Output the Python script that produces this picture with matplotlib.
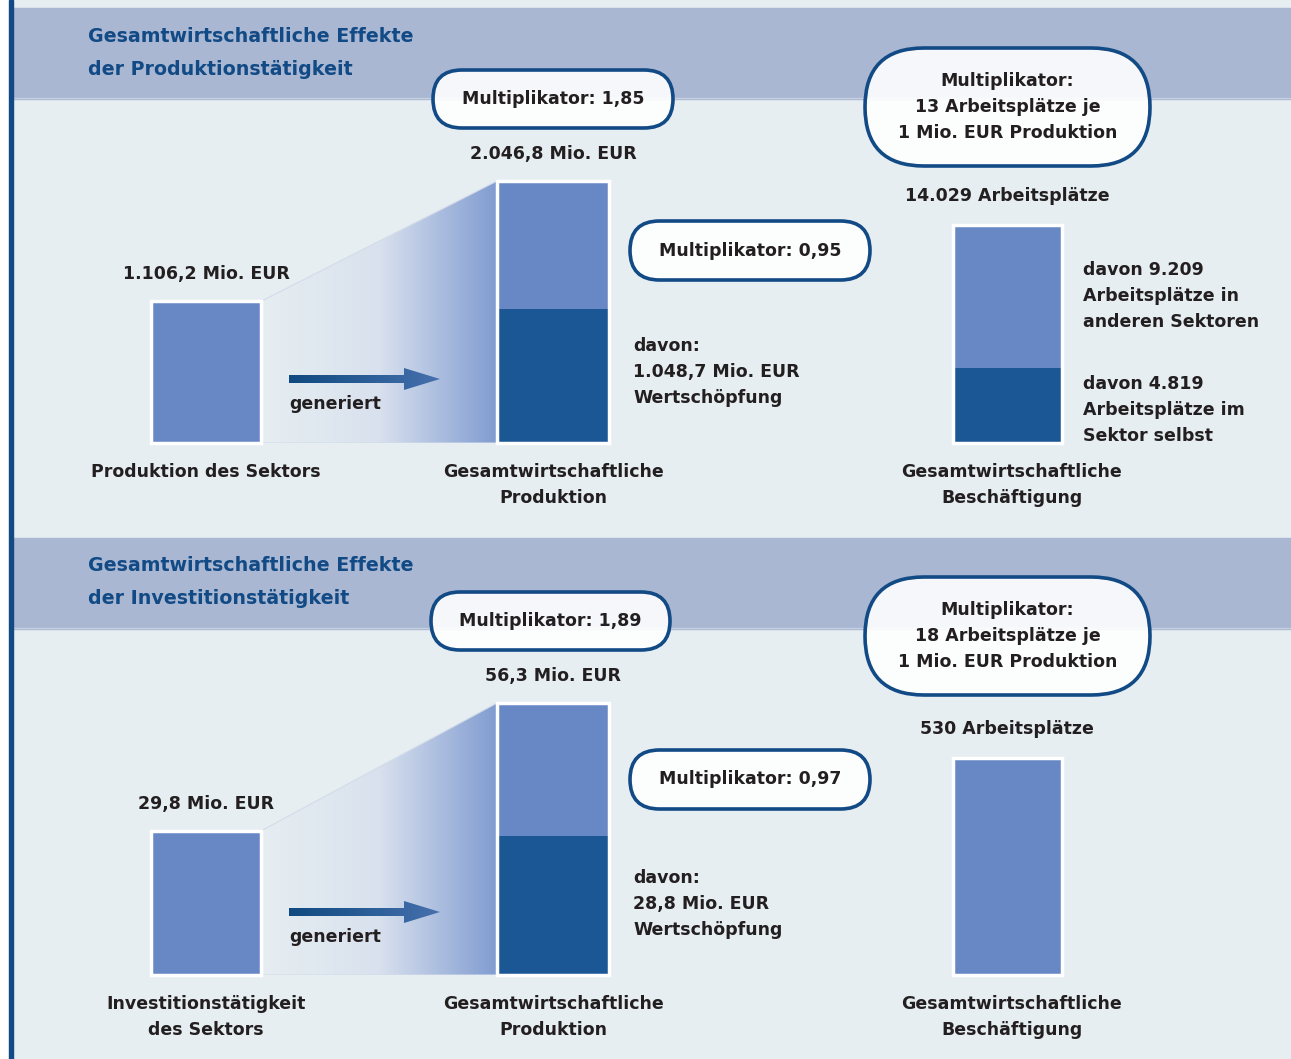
import numpy as np
import matplotlib.pyplot as plt
from matplotlib.patches import Polygon, FancyBboxPatch, Rectangle, FancyArrow
from matplotlib.colors import LinearSegmentedColormap

# Werte (Mio. EUR bzw. Arbeitsplätze)
titel = ["Gesamtwirtschaftliche Effekte\nder Produktionstätigkeit",
         "Gesamtwirtschaftliche Effekte\nder Investitionstätigkeit"]
direkt = [1106.2, 29.8]
gesamt = [2046.8, 56.3]
wertschoepfung = [1048.7, 28.8]
mult_prod = ["1,85", "1,89"]
mult_wert = ["0,95", "0,97"]
mult_jobs = [13, 18]
jobs_gesamt = [14029, 530]
jobs_selbst = [4819, None]
jobs_andere = [9209, None]
direkt_namen = ["Produktion des Sektors", "Investitionstätigkeit\ndes Sektors"]

W, H = 1291, 1059
hell = "#6788c5"
dunkel = "#1a5794"
band = "#a9b7d2"
hg = "#e6eef2"
navy = "#124a85"
txt = "#231f20"
FONT = "DejaVu Sans"
FS = 12.5


def de(v, nk=1):
    s = f"{v:,.{nk}f}"
    return s.replace(",", "X").replace(".", ",").replace("X", ".")


fig = plt.figure(figsize=(W / 100, H / 100), dpi=100)
fig.patch.set_facecolor(hg)
bg = fig.add_axes([0, 0, 1, 1])
bg.set_xlim(0, W)
bg.set_ylim(H, 0)
bg.axis("off")
bg.set_zorder(5)


def px_axes(x0, x1, ytop, ybot):
    a = fig.add_axes([x0 / W, 1 - ybot / H, (x1 - x0) / W, (ybot - ytop) / H])
    a.axis("off")
    a.set_zorder(1)
    return a


def t(x, y, s, ha="center", va="center", **kw):
    kw.setdefault("color", txt)
    kw.setdefault("fontsize", FS)
    bg.text(x, y, s, ha=ha, va=va, fontweight="bold", family=FONT,
            linespacing=1.55, **kw)


def pille(x0, y0, w, h, s):
    p = FancyBboxPatch((x0, y0), w, h, boxstyle=f"round,pad=0,rounding_size={h / 2}",
                       facecolor=(1, 1, 1, 0.9), edgecolor=navy, lw=2.6, zorder=5)
    bg.add_patch(p)
    t(x0 + w / 2, y0 + h / 2, s, zorder=6)


# Rahmen links
bg.add_patch(Rectangle((0, 0), 9, H, color="white", zorder=8))
bg.add_patch(Rectangle((9, 0), 3.5, H, color=navy, zorder=8))

# Layout je Abschnitt
band_y = [8, 538]
titel_y = [53, 582]
base = [443, 975]
top_prod = [181, 703]
top_jobs = [225, 758]
box_prod = [(433, 70, 240, 58), (431, 592, 239, 58)]
box_wert = [(630, 221, 240, 59), (630, 750, 240, 59)]
box_jobs = [(865, 48, 285, 118), (865, 577, 285, 118)]
pfeil_y = [379, 912]

arrow_cmap = LinearSegmentedColormap.from_list("a", ["#0f4a80", "#4670ad"])
grad_cmap = LinearSegmentedColormap.from_list("g", [hg, "#d9e1ee", "#819cd1"])

for i in range(2):
    bg.add_patch(Rectangle((12, band_y[i]), W, 91, color=band, zorder=0))
    bg.plot([12, W], [band_y[i] + 90, band_y[i] + 90], color="#c6d0e0", lw=1, zorder=0)
    bg.text(88, titel_y[i], titel[i], ha="left", va="center", color=navy,
            fontsize=13.7, fontweight="bold", family=FONT, linespacing=1.9)

    # Produktion
    ax = px_axes(100, 700, top_prod[i], base[i])
    ax.set_xlim(100, 700)
    ax.set_ylim(0, gesamt[i])
    xl, wl = 206, 110
    xr, wr = 553, 112
    ax.bar(xl, direkt[i], width=wl, color=hell, edgecolor="white", lw=2.5,
           zorder=3, clip_on=False)
    ax.bar(xr, wertschoepfung[i], width=wr, color=dunkel, zorder=3, clip_on=False)
    ax.bar(xr, gesamt[i] - wertschoepfung[i], bottom=wertschoepfung[i], width=wr,
           color=hell, zorder=3, clip_on=False)
    ax.bar(xr, gesamt[i], width=wr, fill=False, edgecolor="white", lw=2.5,
           zorder=4, clip_on=False)

    x0, x1 = xl + wl / 2, xr - wr / 2
    poly = Polygon([(x0, direkt[i]), (x1, gesamt[i]), (x1, 0), (x0, 0)],
                   closed=True, facecolor="none", edgecolor="#d3dce8", lw=0.8, zorder=2)
    ax.add_patch(poly)
    im = ax.imshow(np.linspace(0, 1, 256).reshape(1, -1), extent=(x0, x1, 0, gesamt[i]),
                   aspect="auto", cmap=grad_cmap, zorder=1)
    im.set_clip_path(poly)
    ax.set_xlim(100, 700)
    ax.set_ylim(0, gesamt[i])

    ax.annotate(f"{de(direkt[i])} Mio. EUR", (xl, direkt[i]), xytext=(0, 27),
                textcoords="offset pixels", ha="center", va="center", color=txt,
                fontsize=FS, fontweight="bold", family=FONT, annotation_clip=False)
    ax.annotate(f"{de(gesamt[i])} Mio. EUR", (xr, gesamt[i]), xytext=(0, 27),
                textcoords="offset pixels", ha="center", va="center", color=txt,
                fontsize=FS, fontweight="bold", family=FONT, annotation_clip=False)

    # Pfeil mit Verlauf
    ar = FancyArrow(289, pfeil_y[i], 151, 0, width=8, head_width=22, head_length=36,
                    length_includes_head=True, facecolor="none", edgecolor="none", zorder=3)
    bg.add_patch(ar)
    aim = bg.imshow(np.linspace(0, 1, 256).reshape(1, -1),
                    extent=(289, 440, pfeil_y[i] + 12, pfeil_y[i] - 12),
                    aspect="auto", cmap=arrow_cmap, zorder=3)
    aim.set_clip_path(ar)
    t(289, pfeil_y[i] + 25, "generiert", ha="left")

    pille(*box_prod[i], f"Multiplikator: {mult_prod[i]}")
    pille(*box_wert[i], f"Multiplikator: {mult_wert[i]}")
    t(633, base[i] - 71, f"davon:\n{de(wertschoepfung[i])} Mio. EUR\nWertschöpfung", ha="left")

    t(206, base[i] + 20, direkt_namen[i], va="top")
    t(553, base[i] + 20, "Gesamtwirtschaftliche\nProduktion", va="top")

    # Beschäftigung
    aj = px_axes(900, 1120, top_jobs[i], base[i])
    aj.set_xlim(900, 1120)
    aj.set_ylim(0, jobs_gesamt[i])
    xj, wj = 1007, 109
    if jobs_selbst[i] is not None:
        aj.bar(xj, jobs_selbst[i], width=wj, color=dunkel, zorder=3, clip_on=False)
        aj.bar(xj, jobs_andere[i], bottom=jobs_selbst[i], width=wj, color=hell,
               zorder=3, clip_on=False)
        aj.bar(xj, jobs_gesamt[i], width=wj, fill=False, edgecolor="white", lw=2.5,
               zorder=4, clip_on=False)
        t(1083, 296, f"davon {de(jobs_andere[i], 0)}\nArbeitsplätze in\nanderen Sektoren", ha="left")
        t(1083, 410, f"davon {de(jobs_selbst[i], 0)}\nArbeitsplätze im\nSektor selbst", ha="left")
    else:
        aj.bar(xj, jobs_gesamt[i], width=wj, color=hell, edgecolor="white", lw=2.5,
               zorder=3, clip_on=False)
    aj.annotate(f"{de(jobs_gesamt[i], 0)} Arbeitsplätze", (xj, jobs_gesamt[i]),
                xytext=(0, 29), textcoords="offset pixels", ha="center", va="center",
                color=txt, fontsize=FS, fontweight="bold", family=FONT,
                annotation_clip=False)

    pille(*box_jobs[i], f"Multiplikator:\n{mult_jobs[i]} Arbeitsplätze je\n1 Mio. EUR Produktion")
    t(1012, base[i] + 20, "Gesamtwirtschaftliche\nBeschäftigung", va="top")

bg.set_xlim(0, W)
bg.set_ylim(H, 0)
fig.savefig("out.png", dpi=100, facecolor=hg)
